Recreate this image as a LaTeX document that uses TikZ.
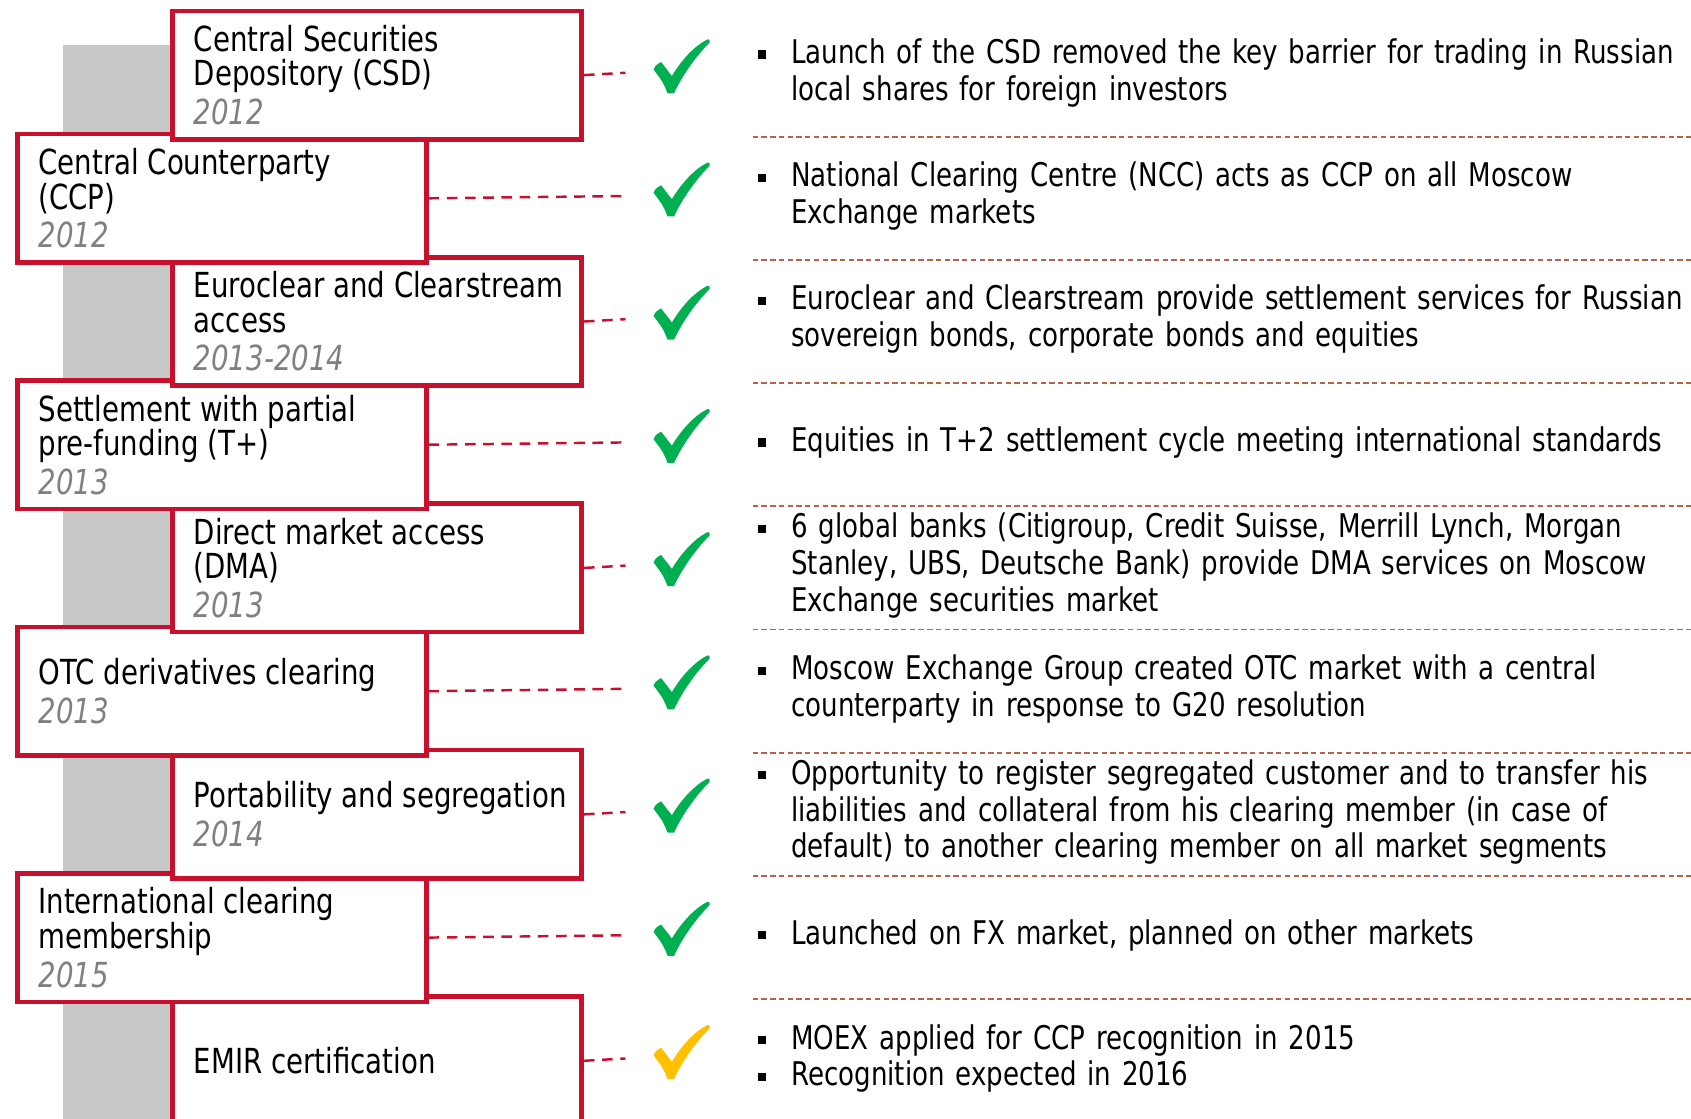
\documentclass[tikz,border=0pt]{standalone}
\usepackage{fontspec}
\setmainfont{DejaVu Sans}[FakeStretch=0.80]
\usetikzlibrary{positioning}

\definecolor{moexred}{RGB}{200,16,46}
\definecolor{bargray}{RGB}{200,200,200}
\definecolor{yeargray}{RGB}{128,128,128}
\definecolor{sepbrown}{RGB}{181,100,72}
\definecolor{okgreen}{RGB}{0,176,80}
\definecolor{okyellow}{RGB}{255,192,0}

\newcommand{\yr}[1]{{\itshape\color{yeargray}#1}}
\newcommand{\bul}{\hangindent=0.31cm\hangafter=1\noindent\makebox[0.31cm][l]{\rule[0.045cm]{0.075cm}{0.075cm}}}

\tikzset{
  stage/.style={draw=moexred, line width=1.2pt, fill=white, anchor=north west,
    minimum width=3.79cm, minimum height=1.19cm, inner sep=0pt},
  stagetext/.style={inner sep=0pt, align=left, font=\fontsize{9.1}{9.1}\selectfont},
  link/.style={draw=moexred, line width=0.65pt, dash pattern=on 2.8pt off 2pt},
  sep/.style={draw=sepbrown, line width=0.5pt, dash pattern=on 1.4pt off 0.9pt},
  note/.style={anchor=west, inner sep=0pt, text width=9.5cm, align=left,
    font=\fontsize{8.6}{9.7}\selectfont},
  pics/tick/.style={code={
    \fill[pic actions] (-26,3) .. controls (-24,-1) .. (-19,-4) -- (-9,9)
      .. controls (0,-6) and (12,-19) .. (24,-25) .. controls (26,-25) .. (26,-22)
      .. controls (12,-8) and (0,10) .. (-7,25) -- (-13,25)
      .. controls (-17,15) .. (-26,3) -- cycle;
  }}
}

\begin{document}
\begin{tikzpicture}[x=0.01cm, y=-0.01cm]
  \useasboundingbox (0,0) rectangle (1568,1037);
  \clip (0,0) rectangle (1568,1037);
  \fill[bargray] (58,42) rectangle (158,1040);

  % stages, drawn from the bottom up so upper boxes sit on top
  \foreach \i/\x/\name/\col/\txt/\info in {
    8/158/emir/okyellow/{EMIR certification}/{\bul MOEX applied for CCP recognition in 2015\endgraf\bul Recognition expected in 2016},
    7/14/icm/okgreen/{International clearing\\membership\\[1.1pt]\yr{2015}}/{\bul Launched on FX market, planned on other markets},
    6/158/port/okgreen/{Portability and segregation\\[1.1pt]\yr{2014}}/{\bul Opportunity to register segregated customer and to transfer his\newline liabilities and collateral from his clearing member (in case of\newline default) to another clearing member on all market segments},
    5/14/otc/okgreen/{OTC derivatives clearing\\[1.1pt]\yr{2013}}/{\bul Moscow Exchange Group created OTC market with a central\newline counterparty in response to G20 resolution},
    4/158/dma/okgreen/{Direct market access\\(DMA)\\[1.1pt]\yr{2013}}/{\bul 6 global banks (Citigroup, Credit Suisse, Merrill Lynch, Morgan\newline Stanley, UBS, Deutsche Bank) provide DMA services on Moscow\newline Exchange securities market},
    3/14/tplus/okgreen/{Settlement with partial\\pre-funding (T+)\\[1.1pt]\yr{2013}}/{\bul Equities in T+2 settlement cycle meeting international standards},
    2/158/icsd/okgreen/{Euroclear and Clearstream\\access\\[1.1pt]\yr{2013-2014}}/{\bul Euroclear and Clearstream provide settlement services for Russian\newline sovereign bonds, corporate bonds and equities},
    1/14/ccp/okgreen/{Central Counterparty\\(CCP)\\[1.1pt]\yr{2012}}/{\bul National Clearing Centre (NCC) acts as CCP on all Moscow\newline Exchange markets},
    0/158/csd/okgreen/{Central Securities\\Depository (CSD)\\[1.1pt]\yr{2012}}/{\bul Launch of the CSD removed the key barrier for trading in Russian\newline local shares for foreign investors}}{
    \node[stage] (\name) at (\x, {8+114.25*\i}) {};
    \node[stagetext, right=0.21cm of \name.west] (\name-t) {\txt};
    \coordinate (\name-end) at (580, {67.5+114.25*\i});
    \draw[link] (\name.east) -- (\name-end);
    \pic[fill=\col] at (632, {61.5+114.25*\i}) {tick};
    \node[note] (\name-n) at (702, {67.5+114.25*\i}) {\info\endgraf};
  }

  % separators between the notes
  \foreach \i in {1,...,8}
    \draw[sep] (698, {12.5+114.25*\i}) -- (1568, {12.5+114.25*\i});
\end{tikzpicture}
\end{document}
